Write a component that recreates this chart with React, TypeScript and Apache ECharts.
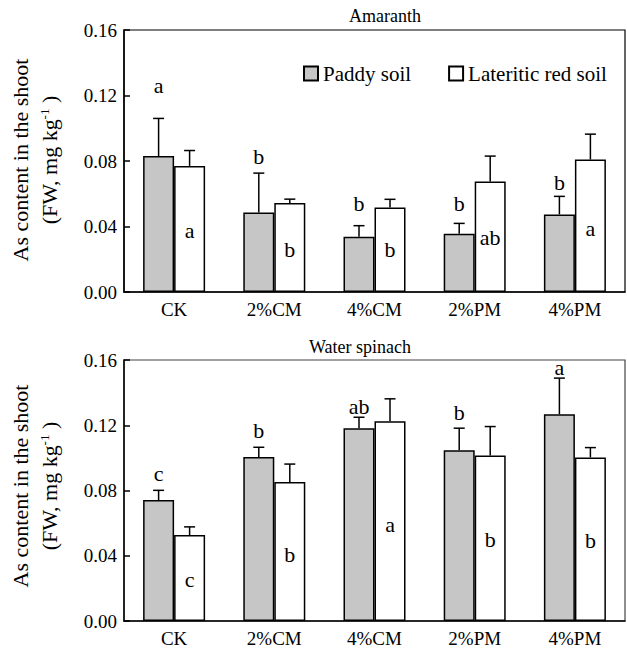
import React, { useEffect, useRef } from "react";
import * as echarts from "echarts";

const categories = ["CK", "2%CM", "4%CM", "2%PM", "4%PM"];

// Amaranth
const amaPaddy = [0.083, 0.0486, 0.0337, 0.0356, 0.0474];
const amaPaddyErr = [0.023, 0.024, 0.0068, 0.0063, 0.011];
const amaLat = [0.077, 0.0543, 0.0516, 0.0675, 0.0809];
const amaLatErr = [0.0094, 0.0024, 0.005, 0.0155, 0.0155];
const amaPaddyLetters = ["a", "b", "b", "b", "b"];
const amaPaddyLetterY = [0.126, 0.0827, 0.0543, 0.0543, 0.0669];
const amaLatLetters = ["a", "b", "b", "ab", "a"];
const amaLatLetterY = [0.0376, 0.0258, 0.0258, 0.033, 0.039];

// Water spinach
const wsPaddy = [0.0741, 0.1005, 0.1182, 0.1046, 0.1268];
const wsPaddyErr = [0.006, 0.006, 0.0067, 0.0136, 0.0221];
const wsLat = [0.0527, 0.0852, 0.1225, 0.1014, 0.1003];
const wsLatErr = [0.005, 0.011, 0.0137, 0.0178, 0.006];
const wsPaddyLetters = ["c", "b", "ab", "b", "a"];
const wsPaddyLetterY = [0.0903, 0.117, 0.1313, 0.128, 0.1553];
const wsLatLetters = ["c", "b", "a", "b", "b"];
const wsLatLetterY = [0.0255, 0.041, 0.0589, 0.05, 0.0492];

const FONT = "Liberation Serif";
const BAR_W = 31;
const PADDY_COLOR = "#c6c6c6";

function errSeries(values: number[], errs: number[], axis: number, offset: number) {
  return {
    type: "custom",
    xAxisIndex: axis,
    yAxisIndex: axis,
    z: 5,
    silent: true,
    encode: { x: 0, y: 1 },
    data: values.map((v, i) => [i, v, errs[i]]),
    renderItem: (params: any, api: any) => {
      const idx = api.value(0);
      const v = api.value(1);
      const e = api.value(2);
      const p0 = api.coord([idx, v]);
      const p1 = api.coord([idx, v + e]);
      const x = p0[0] + offset;
      const style = { stroke: "#000", lineWidth: 1.5 };
      return {
        type: "group",
        children: [
          { type: "line", shape: { x1: x, y1: p0[1], x2: x, y2: p1[1] }, style },
          { type: "line", shape: { x1: x - 5.5, y1: p1[1], x2: x + 5.5, y2: p1[1] }, style },
        ],
      };
    },
  };
}

function letterSeries(letters: string[], ys: number[], axis: number, offset: number) {
  return {
    type: "custom",
    xAxisIndex: axis,
    yAxisIndex: axis,
    z: 6,
    silent: true,
    clip: false,
    encode: { x: 0, y: 1 },
    data: ys.map((v, i) => [i, v]),
    renderItem: (params: any, api: any) => {
      const p = api.coord([api.value(0), api.value(1)]);
      return {
        type: "text",
        x: p[0] + offset,
        y: p[1],
        style: {
          text: letters[params.dataIndex],
          fill: "#000",
          fontSize: 22,
          fontFamily: FONT,
          align: "center",
          verticalAlign: "middle",
        },
      };
    },
  };
}

function xAxisFor(gridIndex: number) {
  return {
    type: "category",
    gridIndex,
    data: categories,
    axisLine: { lineStyle: { color: "#000", width: 1.5 } },
    axisTick: { inside: true, length: 6, interval: 0, lineStyle: { color: "#000", width: 1.5 } },
    axisLabel: { color: "#000", fontSize: 19, fontFamily: FONT, margin: 8 },
  };
}

function yAxisFor(gridIndex: number) {
  return {
    type: "value",
    gridIndex,
    min: 0,
    max: 0.16,
    interval: 0.04,
    splitLine: { show: false },
    axisLine: { show: true, lineStyle: { color: "#000", width: 1.5 } },
    axisTick: { show: true, inside: true, length: 6, lineStyle: { color: "#000", width: 1.5 } },
    axisLabel: {
      color: "#000",
      fontSize: 19,
      fontFamily: FONT,
      margin: 7,
      formatter: (v: number) => v.toFixed(2),
    },
  };
}

function yTitle(cy: number) {
  return [
    {
      type: "text",
      x: 20,
      y: cy,
      rotation: Math.PI / 2,
      style: {
        text: "As content in the shoot",
        fill: "#000",
        fontSize: 22,
        fontFamily: FONT,
        align: "center",
        verticalAlign: "middle",
      },
    },
    {
      type: "text",
      x: 49,
      y: cy,
      rotation: Math.PI / 2,
      style: {
        text: "(FW, mg kg{sup|-1} )",
        fill: "#000",
        fontSize: 22,
        fontFamily: FONT,
        align: "center",
        verticalAlign: "middle",
        rich: {
          sup: { fontSize: 13, fontFamily: FONT, fill: "#000", verticalAlign: "top", padding: [0, 0, 6, 0] },
        },
      },
    },
  ];
}

export default function App() {
  const ref = useRef<HTMLDivElement>(null);
  useEffect(() => {
    if (!ref.current) return;
    const chart = echarts.init(ref.current, undefined, { renderer: "svg" });
    const barBase = (name: string, data: number[], axis: number, color: string) => ({
      type: "bar",
      name,
      xAxisIndex: axis,
      yAxisIndex: axis,
      data,
      barWidth: BAR_W,
      barGap: "0%",
      itemStyle: { color, borderColor: "#000", borderWidth: 1.5 },
    });
    chart.setOption({
      animation: false,
      backgroundColor: "#fff",
      textStyle: { fontFamily: FONT },
      grid: [
        { left: 124, top: 30, width: 501, height: 262, show: true, borderColor: "#000", borderWidth: 1.2, backgroundColor: "transparent" },
        { left: 124, top: 360, width: 501, height: 261, show: true, borderColor: "#444", borderWidth: 1.2, backgroundColor: "transparent" },
      ],
      legend: {
        left: 298,
        top: 58,
        icon: "rect",
        itemWidth: 14,
        itemHeight: 14,
        itemGap: 37,
        textStyle: { color: "#000", fontSize: 21, fontFamily: FONT },
        data: ["Paddy soil", "Lateritic red soil"],
      },
      xAxis: [xAxisFor(0), xAxisFor(1)],
      yAxis: [yAxisFor(0), yAxisFor(1)],
      graphic: [
        {
          type: "text",
          x: 385,
          y: 16,
          style: { text: "Amaranth", fill: "#000", fontSize: 18, fontFamily: FONT, align: "center", verticalAlign: "middle" },
        },
        {
          type: "text",
          x: 360,
          y: 347,
          style: { text: "Water spinach", fill: "#000", fontSize: 18, fontFamily: FONT, align: "center", verticalAlign: "middle" },
        },
        ...yTitle(160),
        ...yTitle(486),
      ],
      series: [
        barBase("Paddy soil", amaPaddy, 0, PADDY_COLOR),
        barBase("Lateritic red soil", amaLat, 0, "#fff"),
        barBase("Paddy soil", wsPaddy, 1, PADDY_COLOR),
        barBase("Lateritic red soil", wsLat, 1, "#fff"),
        errSeries(amaPaddy, amaPaddyErr, 0, -BAR_W / 2),
        errSeries(amaLat, amaLatErr, 0, BAR_W / 2),
        errSeries(wsPaddy, wsPaddyErr, 1, -BAR_W / 2),
        errSeries(wsLat, wsLatErr, 1, BAR_W / 2),
        letterSeries(amaPaddyLetters, amaPaddyLetterY, 0, -BAR_W / 2),
        letterSeries(amaLatLetters, amaLatLetterY, 0, BAR_W / 2),
        letterSeries(wsPaddyLetters, wsPaddyLetterY, 1, -BAR_W / 2),
        letterSeries(wsLatLetters, wsLatLetterY, 1, BAR_W / 2),
      ],
    });
    return () => chart.dispose();
  }, []);
  return (
    <div
      ref={ref}
      style={{ position: "absolute", left: 0, top: 0, width: 627, height: 648, background: "#fff" }}
    />
  );
}
